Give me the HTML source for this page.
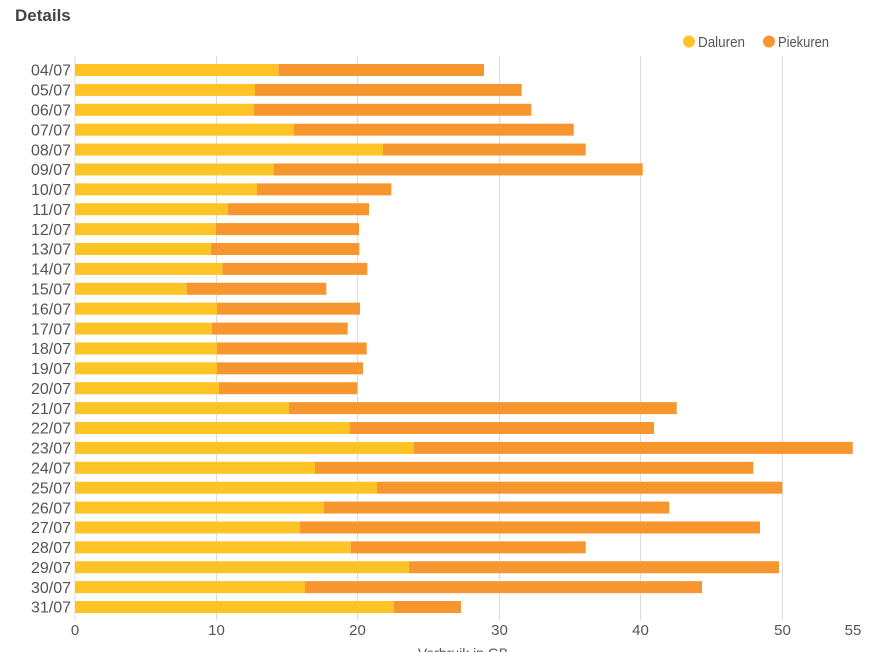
<!DOCTYPE html>
<html>
<head>
<meta charset="utf-8">
<style>
html,body{margin:0;padding:0;background:#fff;}
svg{display:block;font-family:"Liberation Sans",sans-serif;}
</style>
</head>
<body>
<svg width="881" height="652" viewBox="0 0 881 652" xmlns="http://www.w3.org/2000/svg">
<rect width="881" height="652" fill="#fff"/>
<text x="15" y="21" font-size="17" font-weight="bold" fill="#444">Details</text>
<!-- legend -->
<circle cx="689" cy="41.5" r="6" fill="#FEC325"/>
<text x="698" y="47" font-size="14.5" fill="#555" textLength="47" lengthAdjust="spacingAndGlyphs">Daluren</text>
<circle cx="769" cy="41.5" r="6" fill="#F7962E"/>
<text x="778" y="47" font-size="14.5" fill="#555" textLength="51" lengthAdjust="spacingAndGlyphs">Piekuren</text>
<!-- gridlines -->
<g stroke="#dcdcdc" stroke-width="1">
<line x1="75" y1="56" x2="75" y2="620"/>
<line x1="216.5" y1="56" x2="216.5" y2="620"/>
<line x1="357.5" y1="56" x2="357.5" y2="620"/>
<line x1="499.5" y1="56" x2="499.5" y2="620"/>
<line x1="640.5" y1="56" x2="640.5" y2="620"/>
<line x1="782.5" y1="56" x2="782.5" y2="620"/>
</g>
<g id="bars"></g>
<g id="labels" font-size="16" fill="#555" text-anchor="end"></g>
<g font-size="15" fill="#555" text-anchor="middle">
<text x="75" y="635">0</text>
<text x="216.5" y="635">10</text>
<text x="357.5" y="635">20</text>
<text x="499.5" y="635">30</text>
<text x="640.5" y="635">40</text>
<text x="782.5" y="635">50</text>
<text x="853" y="635">55</text>
</g>
<text x="463" y="658" font-size="14" fill="#555" text-anchor="middle">Verbruik in GB</text>
<script>
var ye=[278.7,255,254,293.7,383,274,257,228,216,211,222.3,186.7,217,212,217,217,219,289,350,413.7,315,377,324,300,350.7,409,305,394];
var te=[484,521.7,531.3,573.7,585.7,642.7,391.3,369,359,359.3,367.3,326.3,360,347.7,366.7,363,357.3,676.7,654,852.7,753.3,782.3,669.3,760,585.7,779,702,461];
var ns="http://www.w3.org/2000/svg";
var bars=document.getElementById("bars"),labels=document.getElementById("labels");
for(var i=0;i<28;i++){
 var y=64+i*19.89;
 var r1=document.createElementNS(ns,"rect");
 r1.setAttribute("x",75);r1.setAttribute("y",y);r1.setAttribute("width",ye[i]-75);r1.setAttribute("height",12);r1.setAttribute("fill","#FEC325");
 var r2=document.createElementNS(ns,"rect");
 r2.setAttribute("x",ye[i]);r2.setAttribute("y",y);r2.setAttribute("width",te[i]-ye[i]);r2.setAttribute("height",12);r2.setAttribute("fill","#F7962E");
 bars.appendChild(r1);bars.appendChild(r2);
 var t=document.createElementNS(ns,"text");
 t.setAttribute("x",71);t.setAttribute("y",y+11.7);
 var d=i+4;t.textContent=(d<10?"0"+d:d)+"/07";
 labels.appendChild(t);
}
</script>
</svg>
</body>
</html>
